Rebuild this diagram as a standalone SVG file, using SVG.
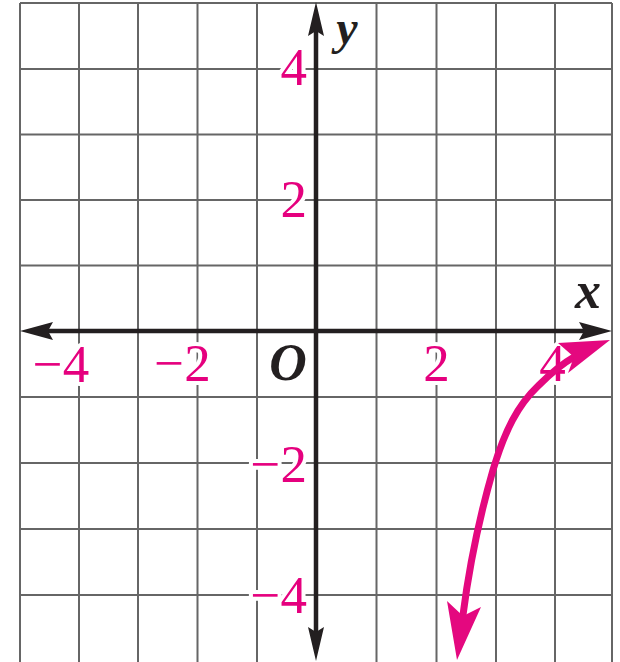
<svg xmlns="http://www.w3.org/2000/svg" width="620" height="662" viewBox="0 0 620 662">
<style>
.grid line{stroke:#666;stroke-width:2}
.border{stroke:#9a9a9a;stroke-width:2}
.lbl{font-family:"Liberation Serif","Times New Roman",serif;font-size:53px;fill:#e5007e;stroke:#fff;stroke-width:8;paint-order:stroke;stroke-linejoin:round}
.var{font-family:"Liberation Serif","Times New Roman",serif;font-style:italic;font-weight:bold;fill:#231f20}
.axis{stroke:#231f20;stroke-width:4.5;fill:none}
.ahead{fill:#231f20}
.curve{stroke:#e4087f;stroke-width:7;fill:none;stroke-linecap:round}
.chead{fill:#e4087f}
</style>
<rect width="620" height="662" fill="#fff"/>
<g id="grid" class="grid">
<line x1="79" y1="3" x2="79" y2="662"/>
<line x1="138" y1="3" x2="138" y2="662"/>
<line x1="197.5" y1="3" x2="197.5" y2="662"/>
<line x1="257" y1="3" x2="257" y2="662"/>
<line x1="376.5" y1="3" x2="376.5" y2="662"/>
<line x1="436.5" y1="3" x2="436.5" y2="662"/>
<line x1="496" y1="3" x2="496" y2="662"/>
<line x1="555" y1="3" x2="555" y2="662"/>
<line x1="612" y1="3" x2="612" y2="662"/>
<line x1="20" y1="69" x2="612" y2="69"/>
<line x1="20" y1="134.5" x2="612" y2="134.5"/>
<line x1="20" y1="200" x2="612" y2="200"/>
<line x1="20" y1="265.5" x2="612" y2="265.5"/>
<line x1="20" y1="397" x2="612" y2="397"/>
<line x1="20" y1="463" x2="612" y2="463"/>
<line x1="20" y1="529" x2="612" y2="529"/>
<line x1="20" y1="595" x2="612" y2="595"/>
<line class="border" x1="20" y1="3" x2="612" y2="3"/>
<line class="border" x1="20" y1="3" x2="20" y2="662"/>
</g>
<g id="tick-labels">
<text class="lbl" x="61" y="382" text-anchor="middle">−4</text>
<text class="lbl" x="182.5" y="381" text-anchor="middle">−2</text>
<text class="lbl" x="436.5" y="381" text-anchor="middle">2</text>
<text class="lbl" x="552.5" y="381" text-anchor="middle">4</text>
<text class="lbl" x="307" y="85" text-anchor="end">4</text>
<text class="lbl" x="307" y="217" text-anchor="end">2</text>
<text class="lbl" x="307" y="482" text-anchor="end">−2</text>
<text class="lbl" x="307" y="613" text-anchor="end">−4</text>
</g>
<g id="axes">
<line class="axis" x1="45" y1="331" x2="587" y2="331"/>
<line class="axis" x1="316" y1="28" x2="316" y2="635"/>
<polygon class="ahead" points="20,331 53,322 48,331 53,340"/>
<polygon class="ahead" points="612,331 579,322 584,331 579,340"/>
<polygon class="ahead" points="316,2 324,36 316,31 308,36"/>
<polygon class="ahead" points="316,661 324,627 316,632 308,627"/>
</g>
<g id="axis-names">
<text class="var" x="588" y="308" font-size="52" text-anchor="middle">x</text>
<text class="var" x="347" y="44" font-size="48" text-anchor="middle">y</text>
<text class="var" x="288" y="380" font-size="52" text-anchor="middle">O</text>
</g>
<g id="graph">
<path class="curve" d="M 463 615 C 470 560, 480 515, 493 470 C 505 430, 518 405, 538 386 C 550 374, 560 365, 574 357"/>
<polygon class="chead" points="457,660 447,601 463,616 481,607"/>
<polygon class="chead" points="610,340 558,343 574,357 568,373"/>
</g>
</svg>
